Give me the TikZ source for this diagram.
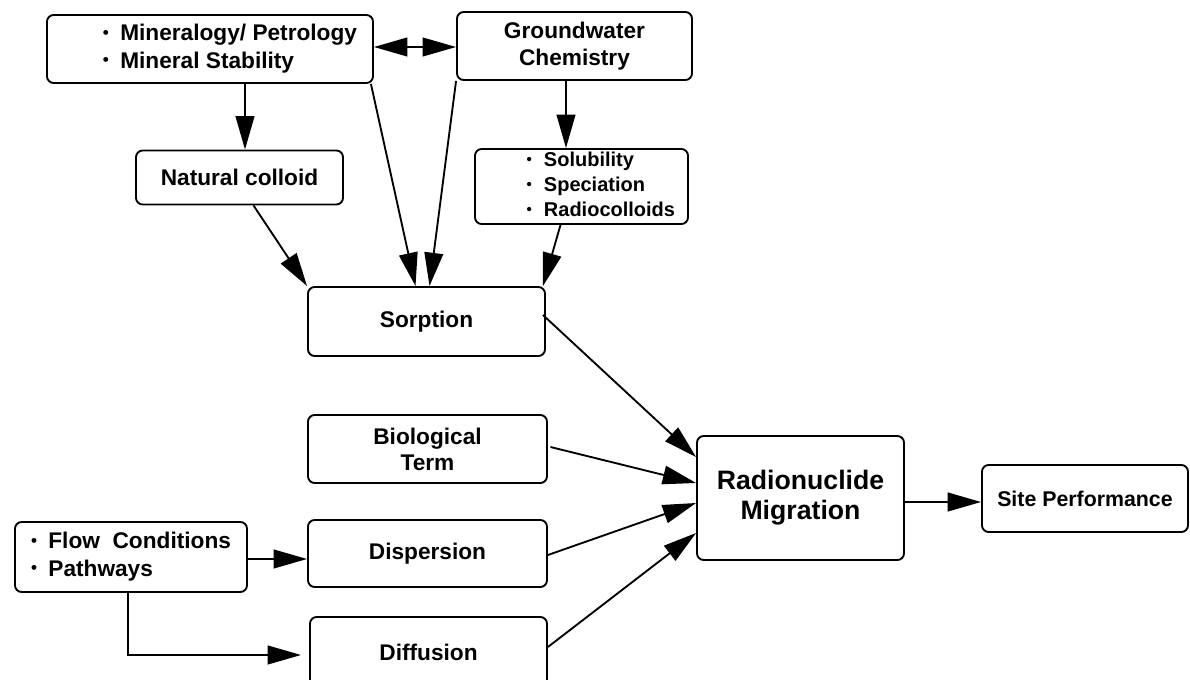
\documentclass[tikz,border=0pt]{standalone}
\usepackage{fontspec}
\setmainfont{Liberation Sans}
\usetikzlibrary{arrows.meta,calc}
\newcommand\bul{\makebox[13pt][l]{\raisebox{0.12em}{\scalebox{0.75}{\textbullet}}}}
\tikzset{
  box/.style={draw,line width=1.4pt,rounded corners=5pt,inner sep=0pt,anchor=center,
    font=\fontsize{17}{20.5}\selectfont\bfseries,align=center},
  arr/.style={line width=1.4pt,-{Triangle[length=25pt,width=14pt]}},
  darr/.style={line width=1.4pt,{Triangle[length=25pt,width=14pt]}-{Triangle[length=25pt,width=14pt]}}
}
\begin{document}
\begin{tikzpicture}[x=0.75pt,y=-0.75pt]
\useasboundingbox[fill=white] (0,0) rectangle (1190,680);
\node[box,minimum width=326*0.75pt,minimum height=68*0.75pt] (minpet) at (210,49)
  {\begin{tabular}{@{\hspace{30pt}}l@{}}\bul Mineralogy/ Petrology\\\bul Mineral Stability\end{tabular}};
\node[box,minimum width=235*0.75pt,minimum height=68*0.75pt] (gw) at (574.5,46) {Groundwater\\Chemistry};
\node[box,minimum width=207*0.75pt,minimum height=54*0.75pt] (nc) at (239.5,177.5) {Natural colloid};
\node[box,minimum width=213*0.75pt,minimum height=73*0.75pt,font=\fontsize{15}{18.75}\selectfont\bfseries] (sol) at (581.5,186.5)
  {\begin{tabular}{@{\hspace{29pt}}l@{}}\bul Solubility\\\bul Speciation\\\bul Radiocolloids\end{tabular}};
\node[box,minimum width=237*0.75pt,minimum height=69*0.75pt] (sorp) at (426.5,321.5) {Sorption};
\node[box,minimum width=239*0.75pt,minimum height=68*0.75pt,font=\fontsize{17}{19.5}\selectfont\bfseries] (bio) at (427.5,449) {Biological\\Term};
\node[box,minimum width=239*0.75pt,minimum height=67*0.75pt] (disp) at (427.5,553.5) {Dispersion};
\node[box,minimum width=237*0.75pt,minimum height=70*0.75pt] (diff) at (428.5,652) {Diffusion};
\node[box,minimum width=207*0.75pt,minimum height=124*0.75pt,font=\fontsize{20}{22.5}\selectfont\bfseries] (rm) at (800.5,498) {Radionuclide\\Migration};
\node[box,minimum width=206*0.75pt,minimum height=67*0.75pt,font=\fontsize{16}{19}\selectfont\bfseries] (site) at (1085,498.5) {Site Performance};
\node[box,minimum width=232*0.75pt,minimum height=70*0.75pt] (flow) at (131,557)
  {\begin{tabular}{@{}l@{}}\bul Flow\ \ Conditions\\\bul Pathways\end{tabular}};
% connectors
\draw[darr] ($(minpet.east)+(0,-2)$) -- ($(minpet.east -| gw.west)+(0,-2)$);
\draw[arr] ($(minpet.south)+(35,0)$) -- ($(nc.north)+(5.5,0)$);
\draw[arr] ($(minpet.south east)+(-3,0)$) -- ($(sorp.north)+(-11,0)$);
\draw[arr] (gw.south west) -- ($(sorp.north)+(3,0)$);
\draw[arr] ($(gw.south)+(-8.5,0)$) -- ($(sol.north)+(-15.5,0)$);
\draw[arr] ($(nc.south)+(14,0)$) -- (sorp.north west);
\draw[arr] ($(sol.south)+(-21,0)$) -- ($(sorp.north east)+(-3,0)$);
\draw[arr] ($(sorp.east)+(-3,-6.5)$) -- ($(rm.west)+(0,-41)$);
\draw[arr] ($(bio.east)+(2.5,-2)$) -- ($(rm.west)+(0,-15)$);
\draw[arr] ($(disp.east)+(0,1.5)$) -- ($(rm.west)+(0,5)$);
\draw[arr] ($(diff.east)+(0,-5)$) -- ($(rm.west)+(0,35)$);
\draw[arr] ($(rm.east)+(0,4)$) -- ($(rm.east -| site.west)+(0,4)$);
\draw[arr] ($(flow.east)+(0,2)$) -- ($(flow.east -| disp.west)+(0,2)$);
\draw[arr] ($(flow.south)+(-3,0)$) |- ($(diff.west)+(-8,3)$);
\end{tikzpicture}
\end{document}
